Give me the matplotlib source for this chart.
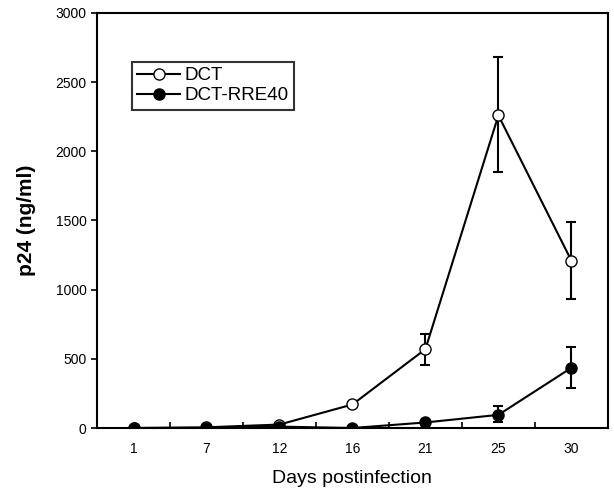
import numpy as np
import matplotlib
matplotlib.use('Agg')
import matplotlib.pyplot as plt
from matplotlib.lines import Line2D

plt.rcParams['font.family'] = ['Liberation Sans', 'DejaVu Sans']

days = ['1', '7', '12', '16', '21', '25', '30']
dct = [0, 5, 25, 170, 570, 2260, 1210]
dct_up = [0, 0, 0, 0, 110, 420, 280]
dct_dn = [0, 0, 0, 0, 115, 410, 275]
rre = [0, 0, 10, 0, 40, 95, 435]
rre_up = [0, 0, 0, 0, 0, 65, 150]
rre_dn = [0, 0, 0, 0, 0, 55, 145]

x = np.arange(len(days))

fig = plt.figure(figsize=(6.14, 4.94), dpi=100)
ax = fig.add_axes([0.158, 0.1336, 0.832, 0.8401])

ax.errorbar(x, dct, yerr=[dct_dn, dct_up], color='black', marker='o', mfc='white',
            mec='black', ms=8, lw=1.5, capsize=3.5, elinewidth=1.5, capthick=1.5,
            zorder=3)
ax.errorbar(x, rre, yerr=[rre_dn, rre_up], color='black', marker='o', mfc='black',
            mec='black', ms=8, lw=1.5, capsize=3.5, elinewidth=1.5, capthick=1.5,
            zorder=4)

ax.set_xlim(-0.5, len(days) - 0.5)
ax.set_ylim(0, 3000)
ax.set_yticks(np.arange(0, 3001, 500))
ax.set_xticks(x)
ax.set_xticklabels(days)
ax.set_xticks(np.arange(0.5, len(days) - 1, 1), minor=True)
ax.tick_params(axis='x', which='major', length=0, pad=10, labelsize=10)
ax.tick_params(axis='x', which='minor', direction='in', length=4, width=1.2)
ax.tick_params(axis='y', direction='out', length=4, width=1.2, labelsize=10)
for s in ax.spines.values():
    s.set_linewidth(1.5)

ax.set_xlabel('Days postinfection', fontsize=14, labelpad=10)
ax.set_ylabel('p24 (ng/ml)', fontsize=15, fontweight='bold', labelpad=14)

handles = [
    Line2D([], [], color='black', lw=1.5, marker='o', mfc='white', mec='black', ms=8),
    Line2D([], [], color='black', lw=1.5, marker='o', mfc='black', mec='black', ms=8),
]
leg = ax.legend(handles, ['DCT', 'DCT-RRE40'], loc='upper left',
                bbox_to_anchor=(0.068, 0.883), fontsize=13.5,
                frameon=True, fancybox=False, edgecolor='black', handlelength=2.3,
                handletextpad=0.2, borderpad=0.3, labelspacing=0.15,
                borderaxespad=0)
leg.get_frame().set_linewidth(1.5)

plt.savefig('out.png', dpi=100)
